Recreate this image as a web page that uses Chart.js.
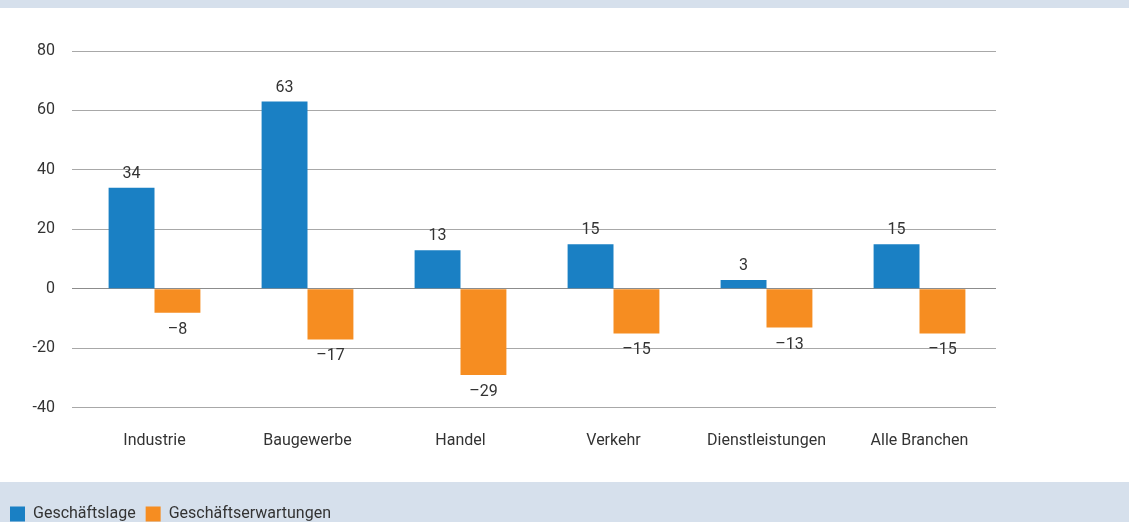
<!DOCTYPE html>
<html>
<head>
<meta charset="utf-8">
<script src="https://cdn.jsdelivr.net/npm/chart.js@4"></script>
<style>
  html, body { margin: 0; padding: 0; background: #fff; overflow: hidden; }
  #wrap { position: relative; width: 1129px; height: 522px; overflow: hidden; }
  canvas { display: block; }
</style>
</head>
<body>
<div id="wrap"><canvas id="c" width="1129" height="540"></canvas></div>
<script>
const categories = ['Industrie', 'Baugewerbe', 'Handel', 'Verkehr', 'Dienstleistungen', 'Alle Branchen'];
const seriesNames = ['Geschäftslage', 'Geschäftserwartungen'];
const lage = [34, 63, 13, 15, 3, 15];
const erwartungen = [-8, -17, -29, -15, -13, -15];
const yTicks = [80, 60, 40, 20, 0, -20, -40];

const FONT = 'Roboto, "Open Sans", sans-serif';

const bandsPlugin = {
  id: 'bands',
  beforeDraw(chart) {
    const ctx = chart.ctx;
    ctx.save();
    ctx.fillStyle = '#d6e0ec';
    ctx.fillRect(0, 0, chart.width, 8);
    ctx.fillRect(0, 482, chart.width, chart.height - 482);
    ctx.restore();
  }
};

const valueLabels = {
  id: 'valueLabels',
  afterDatasetsDraw(chart) {
    const ctx = chart.ctx;
    ctx.save();
    ctx.font = '16px ' + FONT;
    ctx.fillStyle = '#333333';
    ctx.textAlign = 'center';
    ctx.textBaseline = 'middle';
    chart.data.datasets.forEach((ds, i) => {
      const meta = chart.getDatasetMeta(i);
      meta.data.forEach((el, j) => {
        const v = ds.data[j];
        const txt = v < 0 ? '\u2013' + Math.abs(v) : String(v);
        const y = v < 0 ? el.y + 17 : el.y - 14;
        ctx.fillText(txt, el.x, y);
      });
    });
    ctx.restore();
  }
};

new Chart(document.getElementById('c'), {
  type: 'bar',
  data: {
    labels: categories,
    datasets: [
      { label: seriesNames[0], data: lage, backgroundColor: '#1a80c4', categoryPercentage: 0.6, barPercentage: 1.0 },
      { label: seriesNames[1], data: erwartungen, backgroundColor: '#f68d21', categoryPercentage: 0.6, barPercentage: 1.0 }
    ]
  },
  options: {
    responsive: false,
    animation: false,
    layout: { padding: { top: 51, right: 133, left: 0, bottom: 8 } },
    plugins: {
      tooltip: { enabled: false },
      legend: {
        position: 'bottom',
        align: 'start',
        labels: {
          boxWidth: 15,
          boxHeight: 15,
          padding: 10,
          color: '#333333',
          font: { family: FONT, size: 16 }
        }
      }
    },
    scales: {
      x: {
        afterFit(scale) { scale.height += 21; },
        grid: { display: false, drawTicks: false },
        border: { display: false },
        ticks: { color: '#333333', font: { family: FONT, size: 16 }, padding: 24, maxRotation: 0 }
      },
      y: {
        min: -40,
        max: 80,
        afterFit(scale) { scale.width = 78; },
        afterBuildTicks(scale) { scale.ticks = yTicks.map(v => ({ value: v })); },
        grid: {
          color: (c) => c.tick && c.tick.value === 0 ? '#8c8c8c' : '#a8a8a8',
          lineWidth: 1,
          drawTicks: true,
          tickLength: 6
        },
        border: { display: false },
        ticks: { color: '#333333', font: { family: FONT, size: 16 }, padding: 17 }
      }
    }
  },
  plugins: [bandsPlugin, valueLabels]
});
</script>
</body>
</html>
